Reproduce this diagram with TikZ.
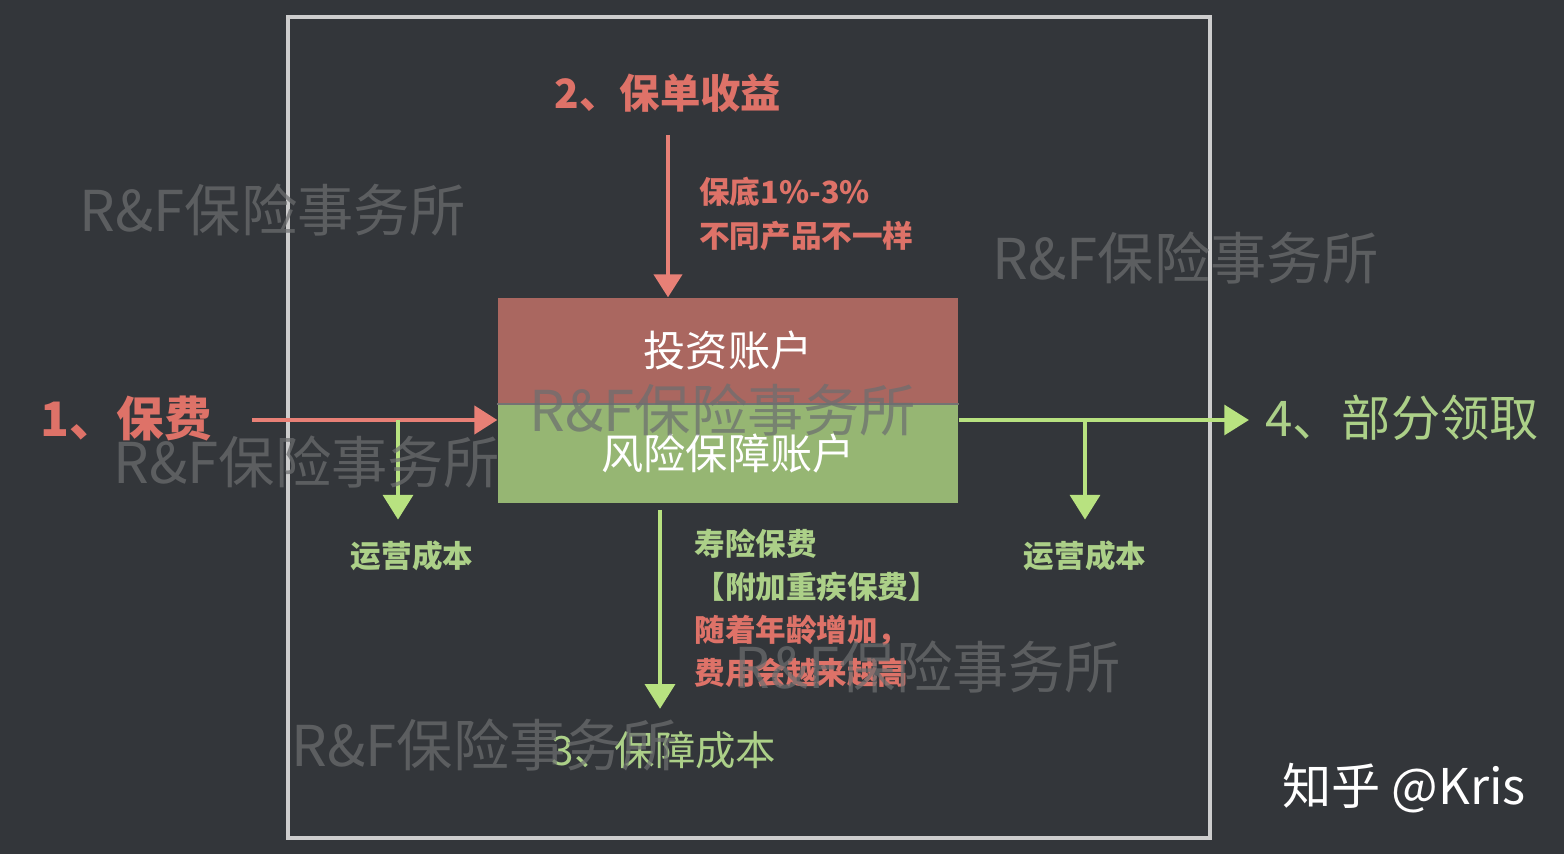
\documentclass[tikz,border=0pt]{standalone}
\usepackage{fontspec}
\setmainfont{Noto Sans CJK SC}
\usepackage{tikz}
\usetikzlibrary{arrows.meta,positioning}

\definecolor{bgc}{RGB}{51,54,58}
\definecolor{framec}{RGB}{205,205,205}
\definecolor{redbox}{RGB}{170,103,96}
\definecolor{greenbox}{RGB}{150,182,115}
\definecolor{redtxt}{RGB}{222,114,104}
\definecolor{greentxt}{RGB}{172,208,136}
\definecolor{redarrow}{RGB}{232,128,118}
\definecolor{greenarrow}{RGB}{184,226,128}
\definecolor{wmark}{RGB}{108,110,112}

\begin{document}
\begin{tikzpicture}[acct/.style={minimum width=4.6cm, text=white, font=\fontsize{12}{14}\selectfont},
	redarr/.style={draw=redarrow, line width=1pt, -{Triangle[width=8pt,length=6.5pt]}},
	greenarr/.style={draw=greenarrow, line width=1pt, -{Triangle[width=8.5pt,length=7pt]}},
	note/.style={align=left, font=\fontsize{8.7}{12.3}\selectfont\bfseries},
	wm/.style={text=wmark, opacity=0.72, font=\fontsize{16}{18}\selectfont}]

	\fill [bgc] (0,0) rectangle (15.64,8.54);
	\useasboundingbox (0,0) rectangle (15.64,8.54);

	\draw [framec, line width=0.9pt] (2.88,0.16) rectangle (12.10,8.37);

	\node (inv) [acct, fill=redbox, minimum height=1.05cm] at (7.28,5.035) {投资账户};
	\node (risk) [acct, fill=greenbox, minimum height=0.99cm, below=0pt of inv] {风险保障账户};
	\draw [black!55, line width=0.6pt] (inv.south west) -- (inv.south east);

	% 2
	\node (t2) [redtxt, font=\fontsize{11.5}{13}\selectfont\bfseries] at (6.68,7.61) {2、保单收益};
	\draw [redarr, shorten <=0.1cm] (t2.south) -- (t2.south |- inv.north);
	\node (n2) [note, redtxt, anchor=west] at (6.87,6.40) {保底1\%-3\%\\不同产品不一样};

	% 1
	\node (t1) [redtxt, font=\fontsize{13.5}{15}\selectfont\bfseries] at (1.26,4.36) {1、保费};
	\coordinate (b1) at (3.98,4.34);
	\draw [redarr, shorten <=0.28cm] (t1.east |- b1) -- (b1 -| risk.west);
	\node (op1) [greentxt, note] at (4.12,2.98) {运营成本};
	\draw [greenarr, shorten >=0.09cm] (b1) -- (b1 |- op1.north);

	% 4
	\node (t4) [greentxt, font=\fontsize{14}{16}\selectfont] at (14.02,4.36) {4、部分领取};
	\coordinate (b2) at (10.85,4.34);
	\draw [greenarr, shorten >=0.04cm] (risk.east |- b2) -- (t4.west |- b2);
	\node (op2) [greentxt, note] at (10.85,2.98) {运营成本};
	\draw [greenarr, shorten >=0.09cm] (b2) -- (b2 |- op2.north);

	% 3
	\node (t3) [greentxt, font=\fontsize{11.5}{13}\selectfont] at (6.64,1.04) {3、保障成本};
	\coordinate (b3) at (6.60,3.52);
	\draw [greenarr, shorten <=0.08cm, shorten >=0.1cm] (b3) -- (b3 |- t3.north);
	\node (n3) [note, greentxt, anchor=west] at (6.82,2.89) {寿险保费\\【附加重疾保费】};
	\node (n4) [note, redtxt, anchor=west] at (6.82,2.025) {随着年龄增加，\\费用会越来越高};

	% watermarks
	\node (w1) [wm] at (2.73,6.44) {R\&F保险事务所};
	\node (w2) [wm] at (11.86,5.96) {R\&F保险事务所};
	\node (w3) [wm] at (3.07,3.92) {R\&F保险事务所};
	\node (w4) [wm] at (7.23,4.44) {R\&F保险事务所};
	\node (w5) [wm] at (9.28,1.87) {R\&F保险事务所};
	\node (w6) [wm] at (4.85,1.09) {R\&F保险事务所};

	\node (zh) [white, font=\fontsize{14}{16}\selectfont] at (14.04,0.66) {知乎 @Kris};

\end{tikzpicture}
\end{document}
